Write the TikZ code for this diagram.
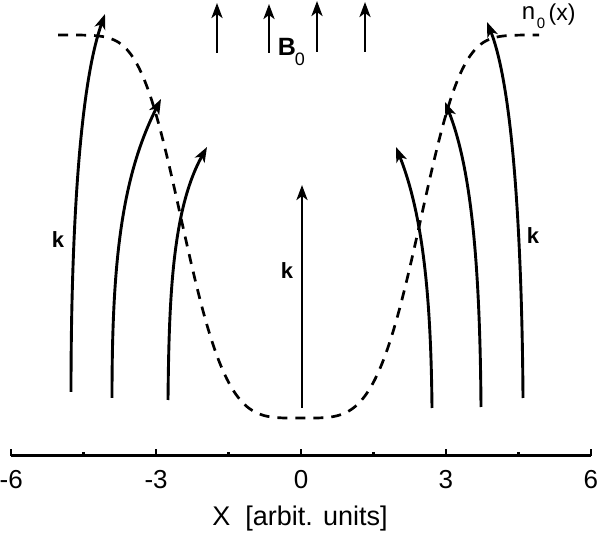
\documentclass[tikz,border=0pt]{standalone}
\usepackage{fontspec}
\setmainfont{Liberation Sans}
\usetikzlibrary{arrows.meta}
\tikzset{
  ray/.style={line width=2.9pt, -{Stealth[length=15pt,width=11pt,inset=4pt]}},
  bfield/.style={line width=2.9pt, -{Stealth[length=15pt,width=11pt,inset=4pt]}},
  prof/.style={line width=2.7pt, dash pattern=on 10pt off 8pt},
  axisline/.style={line width=2.5pt},
  ticklab/.style={font=\fontsize{26}{27}\selectfont, inner sep=0pt},
  klab/.style={font=\fontsize{22}{24}\selectfont\bfseries, inner sep=0pt},
}
\begin{document}
\begin{tikzpicture}[x=1pt,y=-1pt]
\useasboundingbox (0,0) rectangle (600,534);
% density profile
\draw[prof] plot[domain=-5.03:4.93, samples=120, smooth]
  ({301+48.3*\x},{418-383*(1-exp(-((\x/2.68)^2)^2))});
% rays left
\coordinate (l1a) at (71,392);  \coordinate (l1b) at (105,14);
\coordinate (l2a) at (112,398); \coordinate (l2b) at (161,99);
\coordinate (l3a) at (168,400); \coordinate (l3b) at (207,147);
\draw[ray] (l1a) .. controls (71,250) and (78,90) .. (l1b);
\draw[ray] (l2a) .. controls (112,270) and (120,180) .. (l2b);
\draw[ray] (l3a) .. controls (169,300) and (172,210) .. (l3b);
% rays right
\coordinate (r1a) at (523,398); \coordinate (r1b) at (487,22);
\coordinate (r2a) at (481,407); \coordinate (r2b) at (445,102);
\coordinate (r3a) at (432,408); \coordinate (r3b) at (396,147);
\draw[ray] (r1a) .. controls (522,250) and (514,90) .. (r1b);
\draw[ray] (r2a) .. controls (480,270) and (472,170) .. (r2b);
\draw[ray] (r3a) .. controls (431,310) and (425,220) .. (r3b);
% central ray
\coordinate (ca) at (302,408); \coordinate (cb) at (302,185);
\draw[ray] (ca) -- (cb);
% B0 arrows
\foreach \i/\xx/\yb/\yt in {1/217/53/3, 2/269/53/4, 3/317/52/1, 4/365/52/2}{
  \coordinate (b\i a) at (\xx,\yb); \coordinate (b\i b) at (\xx,\yt);
  \draw[bfield] (b\i a) -- (b\i b);
}
% labels
\node[klab] (kL) at (58,240) {k};
\node[klab] (kC) at (287,271) {k};
\node[klab] (kR) at (533,236) {k};
\node[font=\fontsize{25}{26}\selectfont\bfseries, inner sep=0pt] (B) at (287,47) {B};
\node[font=\fontsize{18}{19}\selectfont, inner sep=0pt] (Bs) at (300,59) {0};
\node[font=\fontsize{24}{25}\selectfont, inner sep=0pt, anchor=base] (n) at (528.5,19.5) {n};
\node[font=\fontsize{15}{16}\selectfont, inner sep=0pt] (ns) at (541,23) {0};
\node[font=\fontsize{23}{24}\selectfont, inner sep=0pt] (nx) at (562,15) {(x)};
% axis
\coordinate (axL) at (11,455.7); \coordinate (axR) at (591,455.7);
\draw[axisline] (axL) -- (axR);
\foreach \i/\v/\lab in {1/-6/-6,2/-3/-3,3/0/0,4/3/3,5/6/6}{
  \coordinate (t\i) at ({301+48.3*\v},455.7);
  \draw[axisline] (t\i) -- ++(0,-7);
  \node[ticklab] (tl\i) at ({301+48.3*\v},479.5) {\lab};
}
\foreach \i/\v in {1/-4.5,2/-1.5,3/1.5,4/4.5}{
  \coordinate (m\i) at ({301+48.3*\v},455.7);
  \draw[axisline] (m\i) -- ++(0,-4);
}
\node[font=\fontsize{27}{29}\selectfont, inner sep=0pt] (xlab) at (300,519) {X\ \ [arbit. units]};
\end{tikzpicture}
\end{document}
